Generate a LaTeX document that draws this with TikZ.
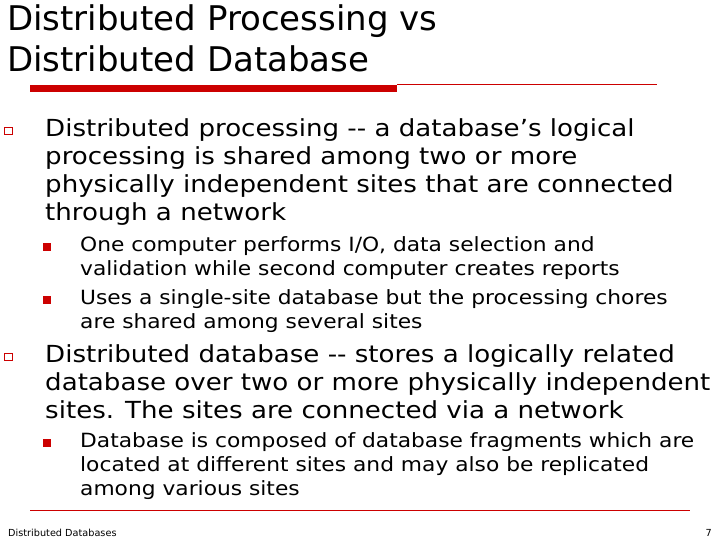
\documentclass[tikz,border=0pt]{standalone}
\usepackage{fontspec}
\setmainfont{DejaVu Sans}
\newfontfamily\widefont[FakeStretch=1.11]{DejaVu Sans}
\definecolor{slidered}{RGB}{204,0,0}
\tikzset{
  title/.style={anchor=base west,inner sep=0pt,font=\fontsize{34}{40}\selectfont},
  lvlone/.style={anchor=north west,inner sep=0pt,align=left,font=\widefont\fontsize{23.5}{28}\selectfont},
  lvltwo/.style={anchor=north west,inner sep=0pt,align=left,font=\widefont\fontsize{19.6}{24}\selectfont},
  hollowsq/.style={draw=slidered,line width=1.3pt,minimum size=7.5pt,inner sep=0pt},
  fullsq/.style={fill=slidered,minimum size=7.5pt,inner sep=0pt}
}
\begin{document}
\begin{tikzpicture}[x=1pt,y=-1pt]
			\useasboundingbox (0,0) rectangle (720,540);
			% title
			\node[title] (t1) at (7,31) {Distributed Processing vs};
			\node[title] (t2) at (7,72) {Distributed Database};
			\fill[slidered] (30,85) rectangle (397,92);
			\draw[slidered,line width=0.6pt] (397,84) -- (657,84);
			% first point
			\node[hollowsq] (b1) at (8.5,131) {};
			\node[lvlone] (p1) at (45,118) {Distributed processing -- a database’s logical\\ processing is shared among two or more\\ physically independent sites that are connected\\ through a network};
			\node[fullsq] (b11) at (47,247) {};
			\node[lvltwo] (p11) at (80,236) {One computer performs I/O, data selection and\\ validation while second computer creates reports};
			\node[fullsq] (b12) at (47,300) {};
			\node[lvltwo] (p12) at (80,289) {Uses a single-site database but the processing chores\\ are shared among several sites};
			% second point
			\node[hollowsq] (b2) at (8.5,357) {};
			\node[lvlone] (p2) at (45,344) {Distributed database -- stores a logically related\\ database over two or more physically independent\\ sites. The sites are connected via a network};
			\node[fullsq] (b21) at (47,443) {};
			\node[lvltwo] (p21) at (80,432) {Database is composed of database fragments which are\\ located at different sites and may also be replicated\\ among various sites};
			% footer
			\draw[slidered,line width=0.6pt] (30,510) -- (690,510);
			\node[anchor=base west,inner sep=0pt,font=\fontsize{9.7}{10}\selectfont] (foot) at (8,536) {Distributed Databases};
			\node[anchor=base east,inner sep=0pt,font=\fontsize{9.7}{10}\selectfont] (page) at (712,536) {7};
\end{tikzpicture}
\end{document}
